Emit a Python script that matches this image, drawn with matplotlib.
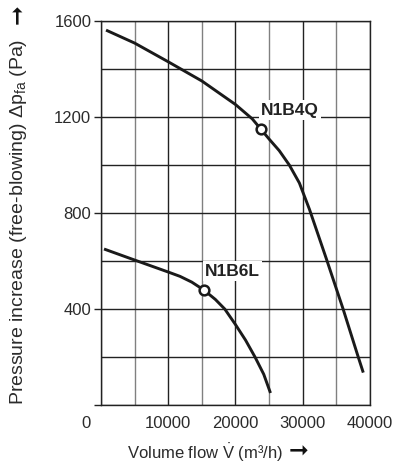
import matplotlib
matplotlib.use("Agg")
import matplotlib.pyplot as plt
from matplotlib.transforms import ScaledTranslation

# fan curves
n1b4q_flow = [750, 5000, 10000, 15000, 20000, 22500, 23750, 25000, 26500,
              28000, 29500, 31000, 33500, 36000, 38250, 39000]
n1b4q_dp = [1562, 1508, 1430, 1350, 1252, 1192, 1150, 1108, 1060,
            1000, 925, 815, 610, 400, 200, 135]
n1b6l_flow = [450, 5000, 10000, 11750, 13500, 15300, 17000, 18400, 20000,
              21500, 22900, 24200, 25200]
n1b6l_dp = [650, 604, 554, 536, 512, 479, 440, 400, 335, 270, 200, 128, 50]

points = {"N1B4Q": (23750, 1150), "N1B6L": (15300, 479)}
label_pos = {"N1B4Q": (28100, 1229), "N1B6L": (19550, 558)}

xticks = [0, 10000, 20000, 30000, 40000]
yticks = [0, 400, 800, 1200, 1600]
ytick_labels = ["", "400", "800", "1200", "1600"]

plt.rcParams["font.family"] = ["Liberation Sans", "DejaVu Sans"]
plt.rcParams["mathtext.fontset"] = "custom"
plt.rcParams["mathtext.rm"] = "Liberation Sans"
plt.rcParams["mathtext.it"] = "Liberation Sans"

txt = "#2b2b2b"
fig = plt.figure(figsize=(4.02, 4.74), dpi=100)
ax = fig.add_axes([101 / 402, 1 - 405 / 474, 269 / 402, 384 / 474])

# grid
for x in range(0, 40001, 5000):
    c = "#222222" if x % 10000 == 0 else "#808080"
    ax.axvline(x, color=c, lw=1, zorder=1)
for y in range(0, 1601, 200):
    ax.axhline(y, color="#222222", lw=1, zorder=1)

ax.plot(n1b4q_flow, n1b4q_dp, color="#1a1a1a", lw=2.1, zorder=3,
        solid_capstyle="butt", solid_joinstyle="round")
ax.plot(n1b6l_flow, n1b6l_dp, color="#1a1a1a", lw=2.1, zorder=3,
        solid_capstyle="butt", solid_joinstyle="round")

for name, (px, py) in points.items():
    ax.plot(px, py, "o", ms=7, mfc="white", mec="#1a1a1a", mew=1.8, zorder=4)
    lx, ly = label_pos[name]
    ax.text(lx, ly, name, ha="center", va="center", fontsize=12.5, fontweight="bold",
            color="#222222", zorder=5,
            bbox=dict(facecolor="white", edgecolor="none", pad=1.5))

ax.set_xlim(0, 40000)
ax.set_ylim(0, 1600)
ax.set_xticks(xticks)
ax.set_xticklabels([str(v) for v in xticks])
ax.set_yticks(yticks)
ax.set_yticklabels(ytick_labels)
ax.tick_params(axis="x", length=0, pad=8, labelsize=12, labelcolor=txt)
ax.tick_params(axis="y", length=5, width=1, color="#222222", pad=2, labelsize=12, labelcolor=txt)
# "0" label sits left of the axis in the original
lab0 = ax.get_xticklabels()[0]
lab0.set_transform(lab0.get_transform() + ScaledTranslation(-0.15, 0, fig.dpi_scale_trans))
for s in ax.spines.values():
    s.set_color("#222222")
    s.set_linewidth(1)

# axis titles, arrows drawn as separate texts
fig.text(127 / 402, 1 - 453 / 474, r"Volume flow $\dot{V}$ (m³/h)", ha="left", va="center",
         fontsize=12, color=txt)
fig.text(289 / 402, 1 - 452 / 474, "\u279E", ha="left", va="center",
         fontsize=17, color="#111111", family="DejaVu Sans")
fig.text(19 / 402, 1 - 405 / 474, r"Pressure increase (free-blowing) $\Delta$p$_{\rm fa}$ (Pa)",
         ha="center", va="bottom", rotation=90, fontsize=14, color=txt)
fig.text(18 / 402, 1 - 4 / 474, "\u279E", ha="center", va="top", rotation=90,
         fontsize=17, color="#111111", family="DejaVu Sans")

fig.savefig("out.png", dpi=100)
